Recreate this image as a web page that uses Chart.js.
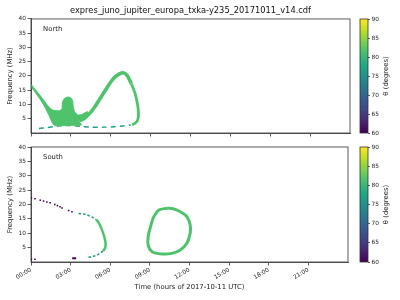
<!DOCTYPE html>
<html>
<head>
<meta charset="utf-8">
<script src="https://cdn.jsdelivr.net/npm/chart.js@4.4.0/dist/chart.umd.min.js"></script>
<style>
  html, body { margin: 0; padding: 0; background: #fff; }
  #wrap { position: relative; width: 400px; height: 300px; }
  canvas { position: absolute; }
</style>
</head>
<body>
<div id="wrap">
  <canvas id="north" width="352" height="140" style="left:0;top:0"></canvas>
  <canvas id="cbNorth" width="48" height="140" style="left:352px;top:0"></canvas>
  <canvas id="south" width="352" height="160" style="left:0;top:140px"></canvas>
  <canvas id="cbSouth" width="48" height="160" style="left:352px;top:140px"></canvas>
</div>
<script>
// tick labels
const timeTicks = ["00:00", "03:00", "06:00", "09:00", "12:00", "15:00", "18:00", "21:00"];
const thetaTicks = [60, 65, 70, 75, 80, 85, 90];
const panelNames = ["North", "South"];

// North hemisphere, [hour, MHz]
// outline of the broad emission region near 00:00-04:00
const northBlob = [
  [0.02, 17.0], [0.4, 14.8], [0.78, 12.6], [1.15, 10.3], [1.4, 8.9], [1.65, 8.05],
  [2.15, 7.8], [2.33, 8.6], [2.36, 10.6], [2.48, 11.9], [2.73, 12.6], [2.98, 12.4],
  [3.13, 11.3], [3.18, 9.2], [3.28, 7.5], [3.53, 6.3], [3.9, 6.65], [4.24, 7.5],
  [4.24, 5.5], [3.79, 4.0], [3.59, 4.3], [3.79, 2.8], [3.03, 2.7], [1.78, 2.55],
  [1.6, 3.6], [1.4, 5.7], [1.03, 9.2], [0.65, 12.1], [0.28, 14.5], [0.02, 16.2],
  [0.02, 17.0]
];
// the arc rising to 21 MHz and back
const northArcUp = [
  [3.9, 4.8], [4.3, 6.3], [4.7, 8.5], [5.19, 12.0], [5.67, 15.5], [6.0, 17.9],
  [6.38, 19.9], [6.85, 21.1], [7.2, 20.4], [7.55, 17.3]
];
const northArcDown = [
  [7.55, 17.3], [7.83, 13.9], [8.0, 10.4], [8.09, 6.9], [8.03, 4.6], [7.85, 3.5], [7.6, 2.9]
];
// low frequency trace (dashed)
const northLow = [
  [0.6, 1.6], [1.2, 1.9], [2.2, 2.5], [3.0, 2.6], [3.8, 2.3], [4.5, 2.05],
  [5.5, 2.05], [6.3, 2.2], [6.9, 2.45], [7.5, 2.8]
];

// South hemisphere, [hour, MHz]
const southDots = [
  [0.03, 22.2], [0.3, 22.0], [0.7, 21.5], [0.95, 21.2], [1.2, 20.9], [1.45, 20.6],
  [1.8, 20.0], [2.0, 19.6], [2.2, 19.2], [2.35, 18.8], [2.85, 17.9], [3.1, 17.5],
  [0.03, 0.95], [0.3, 0.95]
];
const southDash = [[3.12, 1.3], [3.42, 1.3]];
const southUpper = [[3.6, 16.9], [4.15, 16.5], [4.6, 15.7], [4.95, 14.7]];
const southCurve = [
  [4.95, 14.7], [5.12, 13.7], [5.33, 11.7], [5.5, 9.5], [5.6, 7.8], [5.65, 6.3],
  [5.6, 4.8], [5.45, 3.8]
];
const southLower = [[5.45, 3.8], [5.2, 3.0], [5.0, 2.4], [4.7, 2.0], [4.3, 1.55]];
const southLoop = [
  [10.3, 18.7], [10.7, 18.6], [11.3, 17.5], [11.8, 15.8], [12.05, 12.9], [12.05, 10.0],
  [11.8, 6.5], [11.3, 4.2], [10.67, 3.0], [9.92, 2.8], [9.17, 3.6], [8.87, 5.9],
  [8.87, 8.8], [9.05, 12.3], [9.3, 15.8], [9.68, 18.1], [10.3, 18.7]
];

const viridis = ["#440154", "#482475", "#414487", "#355f8d", "#2a788e", "#21918c",
                 "#22a884", "#44bf70", "#7ad151", "#bddf26", "#fde725"];
const green = "#4ec36b";
const teal = "#22a185";
const purple = "#440154";
const axisColor = "#333";

Chart.defaults.font.family = "DejaVu Sans";
Chart.defaults.color = "#222";

function pts(arr) {
  return arr.map(p => ({ x: p[0], y: p[1] }));
}

const frame = {
  id: "frame",
  afterDraw(chart) {
    const { ctx, chartArea: a } = chart;
    ctx.save();
    ctx.strokeStyle = axisColor;
    ctx.lineWidth = 0.8;
    ctx.strokeRect(a.left, a.top, a.right - a.left, a.bottom - a.top);
    ctx.restore();
  }
};

function panelText(name) {
  return {
    id: "panelText",
    afterDraw(chart) {
      const { ctx, chartArea: a } = chart;
      ctx.save();
      ctx.font = "6.85px 'DejaVu Sans'";
      ctx.fillStyle = "#222";
      ctx.textBaseline = "middle";
      ctx.fillText(name, a.left + 0.038 * (a.right - a.left), a.top + 0.09 * (a.bottom - a.top));
      ctx.restore();
    }
  };
}

function mainChart(id, datasets, isBottom, name) {
  return new Chart(document.getElementById(id), {
    type: "scatter",
    data: { datasets: datasets },
    options: {
      responsive: false,
      animation: false,
      layout: { padding: { left: 0, right: 2, top: isBottom ? 7 : 0, bottom: 0 } },
      plugins: {
        legend: { display: false },
        tooltip: { enabled: false },
        title: {
          display: !isBottom,
          fullSize: false,
          text: "expres_juno_jupiter_europa_txka-y235_20171011_v14.cdf",
          color: "#111",
          font: { size: 8.3, weight: "normal" },
          padding: { top: 6, bottom: 3 }
        }
      },
      scales: {
        x: {
          type: "linear",
          min: 0,
          max: 24,
          ticks: {
            stepSize: 3,
            autoSkip: false,
            minRotation: 30,
            maxRotation: 30,
            padding: 1,
            font: { size: 5.8 },
            callback: v => (v >= 24 ? null : (isBottom ? timeTicks[v / 3] : ""))
          },
          grid: { drawOnChartArea: false, color: axisColor, tickLength: 3.5, tickWidth: 0.8 },
          border: { display: true, color: axisColor, width: 0.8 },
          title: {
            display: isBottom,
            text: "Time (hours of 2017-10-11 UTC)",
            font: { size: 6.85 },
            padding: { top: 0, bottom: 8.9 }
          },
          afterFit: s => { s.height = isBottom ? 38 : 7; }
        },
        y: {
          min: 0,
          max: 40,
          ticks: {
            stepSize: 5,
            autoSkip: false,
            padding: 1.5,
            font: { size: 5.8 },
            callback: v => (v === 0 ? null : v)
          },
          grid: { drawOnChartArea: false, color: axisColor, tickLength: 3.5, tickWidth: 0.8 },
          border: { display: true, color: axisColor, width: 0.8 },
          title: {
            display: true,
            text: "Frequency (MHz)",
            font: { size: 6.85 },
            padding: { top: 5.9, bottom: 0 }
          },
          afterFit: s => { s.width = 31; }
        }
      }
    },
    plugins: [frame, panelText(name)]
  });
}

function lineSet(arr, color, width, dash) {
  return {
    data: pts(arr),
    showLine: true,
    borderColor: color,
    borderWidth: width,
    borderDash: dash || [],
    pointRadius: 0,
    tension: 0.3,
    fill: false
  };
}

mainChart("north", [
  {
    data: pts(northBlob),
    showLine: true,
    fill: "shape",
    backgroundColor: green,
    borderColor: green,
    borderWidth: 1,
    pointRadius: 0,
    tension: 0.2
  },
  lineSet(northArcUp, green, 3.6),
  lineSet(northArcDown, green, 2.8),
  lineSet(northLow, teal, 1.4, [5, 4])
], false, panelNames[0]);

mainChart("south", [
  {
    data: pts(southDots),
    showLine: false,
    pointStyle: "rect",
    pointRadius: 1.1,
    backgroundColor: purple,
    borderWidth: 0
  },
  lineSet(southDash, purple, 2),
  lineSet(southUpper, teal, 1.6, [2.5, 2]),
  lineSet(southCurve, green, 2.5),
  lineSet(southLower, teal, 1.6, [2.5, 2]),
  lineSet(southLoop, green, 3)
], true, panelNames[1]);

// colorbar label, reading bottom to top
const cbLabel = {
  id: "cbLabel",
  afterDraw(chart) {
    const { ctx, chartArea: a } = chart;
    ctx.save();
    ctx.translate(34.7, (a.top + a.bottom) / 2);
    ctx.rotate(-Math.PI / 2);
    ctx.font = "6.85px 'DejaVu Sans'";
    ctx.fillStyle = "#222";
    ctx.textAlign = "center";
    ctx.textBaseline = "middle";
    ctx.fillText("θ (degrees)", 0, 0);
    ctx.restore();
  }
};

function colorbar(id, topPad, bottomPad) {
  return new Chart(document.getElementById(id), {
    type: "bar",
    data: {
      labels: ["θ"],
      datasets: [{
        data: [[thetaTicks[0], thetaTicks[thetaTicks.length - 1]]],
        backgroundColor: c => {
          const a = c.chart.chartArea;
          if (!a) return viridis[5];
          const g = c.chart.ctx.createLinearGradient(0, a.bottom, 0, a.top);
          viridis.forEach((col, i) => g.addColorStop(i / (viridis.length - 1), col));
          return g;
        },
        borderWidth: 0,
        barPercentage: 1,
        categoryPercentage: 1
      }]
    },
    options: {
      responsive: false,
      animation: false,
      layout: { padding: { left: 8, right: 0, top: topPad, bottom: bottomPad } },
      plugins: { legend: { display: false }, tooltip: { enabled: false } },
      scales: {
        x: { display: false },
        y: {
          position: "right",
          min: 60,
          max: 90,
          ticks: { stepSize: 5, padding: 1.5, font: { size: 5.8 } },
          grid: { drawOnChartArea: false, color: axisColor, tickLength: 2, tickWidth: 0.8 },
          border: { display: false },
          afterFit: s => { s.width = 32; }
        }
      }
    },
    plugins: [frame, cbLabel]
  });
}

colorbar("cbNorth", 19, 7);
colorbar("cbSouth", 7, 38);
</script>
</body>
</html>
